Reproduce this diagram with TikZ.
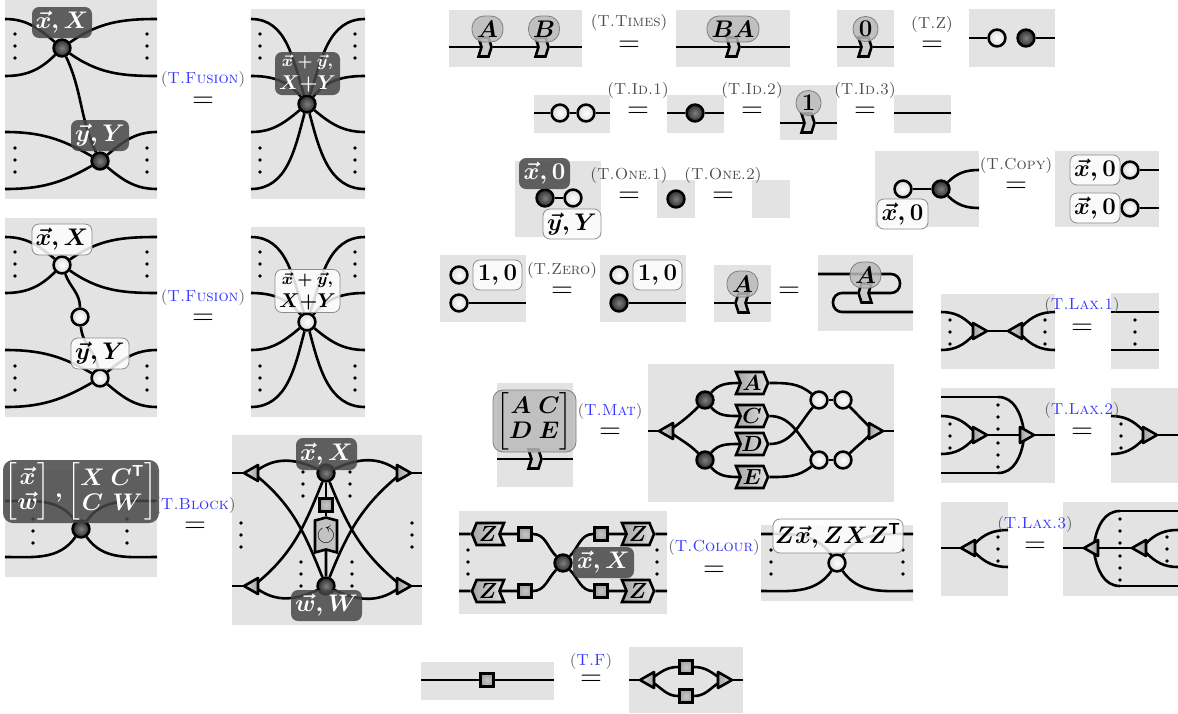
\documentclass[tikz,border=0pt]{standalone}
\usepackage{amsmath}
\usepackage{amssymb}
\usetikzlibrary{shapes.geometric,shapes.symbols}

\setlength{\arraycolsep}{1.5pt}
\newcommand{\blueref}[1]{{\color{black!60}(}{\color{blue!80}\textsc{#1}}{\color{black!60})}}
\newcommand{\grayref}[1]{{\color{black!70}(\textsc{#1})}}
\newcommand{\dotsat}[2]{\fill (#1,#2-12) circle (.9pt) (#1,#2) circle (.9pt) (#1,#2+12) circle (.9pt);}

\tikzset{
    panel/.style={fill=black!11},
    dark/.style={circle,draw=black,line width=1.3pt,inner sep=0,minimum size=8.4pt,inner color=black!50,outer color=black!82},
    light/.style={circle,draw=black,line width=1.3pt,inner sep=0,minimum size=8.4pt,inner color=white,outer color=black!14},
    tri/.style={isosceles triangle,isosceles triangle stretches,draw=black,line width=1.3pt,line join=round,inner sep=0,outer sep=0,minimum width=8pt,minimum height=7pt,anchor=lower side},
    trir/.style={tri,shape border rotate=0,left color=black!35,right color=black!14},
    tril/.style={tri,shape border rotate=180,left color=black!14,right color=black!35},
    sq/.style={rectangle,draw=black,line width=1.3pt,inner sep=0,minimum size=6.6pt,inner color=black!22,outer color=black!36},
    tile/.style={signal,signal to=east,signal from=west,signal pointer angle=135,draw=black,line width=1.3pt,inner sep=0,minimum width=16pt,minimum height=11pt,left color=black!35,right color=black!12,font=\fontsize{11}{12}\selectfont\boldmath},
    tilel/.style={tile,signal to=west,signal from=east},
    gad/.style={signal,signal to=east,signal from=west,signal pointer angle=145,draw=black,line width=1.3pt,inner sep=0,minimum width=6.5pt,minimum height=9.5pt,fill=black!20},
    gadl/.style={gad,signal to=west,signal from=east},
    lab/.style 2 args={rounded corners=3.5pt,inner sep=0,minimum width=#1*0.5pt,minimum height=#2*0.5pt,align=center,fill opacity=.85,text opacity=1,font=\fontsize{12}{12.5}\selectfont\boldmath},
    dlab/.style 2 args={lab={#1}{#2},fill=black!72,text=white},
    wlab/.style 2 args={lab={#1}{#2},fill=white,draw=black!45,line width=.4pt},
    glab/.style 2 args={lab={#1}{#2},fill=black!27,draw=black!50,line width=.4pt,rounded corners=6pt},
    rulename/.style={inner sep=0,font=\fontsize{8}{9}\selectfont},
    eqsign/.style={inner sep=0,font=\fontsize{13.5}{14}\selectfont},
    every edge/.style={draw,line width=1.3pt},
}

\begin{document}
\begin{tikzpicture}[x=0.5pt,y=-0.5pt]
    \useasboundingbox (0,0) rectangle (1178,713);

    % fusion, dark spiders
    \fill[panel] (5,0) rectangle (157,199);
    \fill[panel] (251,9) rectangle (365,199);
    \node[dark] (fa1) at (62,48) {};
    \node[dark] (fa2) at (100,161) {};
    \node[dark] (fa3) at (307,104) {};
    \coordinate (fa4) at (5,19); \coordinate (fa5) at (5,76);
    \coordinate (fa6) at (157,19); \coordinate (fa7) at (157,76);
    \coordinate (fa8) at (5,132); \coordinate (fa9) at (5,189);
    \coordinate (fa10) at (157,132); \coordinate (fa11) at (157,189);
    \coordinate (fa12) at (251,19); \coordinate (fa13) at (251,76);
    \coordinate (fa14) at (251,132); \coordinate (fa15) at (251,189);
    \coordinate (fa16) at (365,19); \coordinate (fa17) at (365,76);
    \coordinate (fa18) at (365,132); \coordinate (fa19) at (365,189);
    \path (fa4) edge[out=0,in=140] (fa1) (fa5) edge[out=0,in=-135] (fa1);
    \path (fa6) edge[out=180,in=35] (fa1) (fa7) edge[out=180,in=-35] (fa1);
    \path (fa8) edge[out=0,in=150] (fa2) (fa9) edge[out=0,in=-150] (fa2);
    \path (fa10) edge[out=180,in=40] (fa2) (fa11) edge[out=180,in=-40] (fa2);
    \path (fa1) edge[out=-65,in=115] (fa2);
    \path (fa12) edge[out=0,in=108] (fa3) (fa13) edge[out=0,in=130] (fa3);
    \path (fa14) edge[out=0,in=-140] (fa3) (fa15) edge[out=0,in=-105] (fa3);
    \path (fa16) edge[out=180,in=72] (fa3) (fa17) edge[out=180,in=50] (fa3);
    \path (fa18) edge[out=180,in=-40] (fa3) (fa19) edge[out=180,in=-75] (fa3);
    \dotsat{15}{46} \dotsat{147}{46} \dotsat{15}{160} \dotsat{147}{160}
    \dotsat{260}{46} \dotsat{355}{46} \dotsat{260}{160} \dotsat{355}{160}
    \node[dlab={60}{31}] (la1) at (62,22.5) {$\vec x,X$};
    \node[dlab={58}{31}] (la2) at (100,135.5) {$\vec y,Y$};
    \node[dlab={65}{43}] (la3) at (307.5,73.5) {{\fontsize{8.5}{9.5}\selectfont\boldmath$\vec x+\vec y,$}\\[-1pt]{\fontsize{10}{10}\selectfont\boldmath$X{+}Y$}};

    % fusion, white spiders
    \fill[panel] (5,218) rectangle (157,417);
    \fill[panel] (251,227) rectangle (365,417);
    \node[light] (fb1) at (62,265) {};
    \node[light] (fb2) at (100,378) {};
    \node[light] (fb3) at (307,322) {};
    \node[light] (fb20) at (80,317) {};
    \coordinate (fb4) at (5,237); \coordinate (fb5) at (5,293);
    \coordinate (fb6) at (157,237); \coordinate (fb7) at (157,293);
    \coordinate (fb8) at (5,350); \coordinate (fb9) at (5,407);
    \coordinate (fb10) at (157,350); \coordinate (fb11) at (157,407);
    \coordinate (fb12) at (251,237); \coordinate (fb13) at (251,293);
    \coordinate (fb14) at (251,350); \coordinate (fb15) at (251,407);
    \coordinate (fb16) at (365,237); \coordinate (fb17) at (365,293);
    \coordinate (fb18) at (365,350); \coordinate (fb19) at (365,407);
    \path (fb4) edge[out=0,in=140] (fb1) (fb5) edge[out=0,in=-135] (fb1);
    \path (fb6) edge[out=180,in=35] (fb1) (fb7) edge[out=180,in=-35] (fb1);
    \path (fb8) edge[out=0,in=150] (fb2) (fb9) edge[out=0,in=-150] (fb2);
    \path (fb10) edge[out=180,in=40] (fb2) (fb11) edge[out=180,in=-40] (fb2);
    \path (fb1) edge[out=-70,in=90] (fb20) (fb20) edge[out=-85,in=100] (fb2);
    \path (fb12) edge[out=0,in=108] (fb3) (fb13) edge[out=0,in=130] (fb3);
    \path (fb14) edge[out=0,in=-140] (fb3) (fb15) edge[out=0,in=-105] (fb3);
    \path (fb16) edge[out=180,in=72] (fb3) (fb17) edge[out=180,in=50] (fb3);
    \path (fb18) edge[out=180,in=-40] (fb3) (fb19) edge[out=180,in=-75] (fb3);
    \dotsat{15}{264} \dotsat{147}{264} \dotsat{15}{378} \dotsat{147}{378}
    \dotsat{260}{264} \dotsat{355}{264} \dotsat{260}{378} \dotsat{355}{378}
    \node[wlab={60}{31}] (lb1) at (62,239.5) {$\vec x,X$};
    \node[wlab={58}{31}] (lb2) at (100,353.5) {$\vec y,Y$};
    \node[wlab={65}{43}] (lb3) at (307.5,291) {{\fontsize{8.5}{9.5}\selectfont\boldmath$\vec x+\vec y,$}\\[-1pt]{\fontsize{10}{10}\selectfont\boldmath$X{+}Y$}};

    % block
    \fill[panel] (5,470) rectangle (157,577);
    \fill[panel] (232,435) rectangle (422,625);
    \node[dark] (bl1) at (81,529) {};
    \coordinate (bl2) at (5,501); \coordinate (bl3) at (5,557);
    \coordinate (bl4) at (157,501); \coordinate (bl5) at (157,557);
    \path (bl2) edge[out=0,in=125] (bl1) (bl3) edge[out=0,in=-125] (bl1);
    \path (bl4) edge[out=180,in=55] (bl1) (bl5) edge[out=180,in=-55] (bl1);
    \dotsat{33}{531} \dotsat{127}{531}
    \node[dark] (bl6) at (326,473) {};
    \node[dark] (bl7) at (326,586) {};
    \node[sq] (bl8) at (326,505) {};
    \node[signal,signal to=north,signal from=south,signal pointer angle=150,draw=black,line width=1.3pt,inner sep=0,minimum width=11pt,minimum height=17pt,fill=black!24,font=\fontsize{12}{12}\selectfont] (bl9) at (326,535) {$\boldsymbol{\circlearrowleft}$};
    \node[tril] (bl10) at (258,473) {};
    \node[tril] (bl11) at (258,586) {};
    \node[trir] (bl12) at (397,473) {};
    \node[trir] (bl13) at (397,586) {};
    \coordinate (bl14) at (232,473); \coordinate (bl15) at (232,586);
    \coordinate (bl16) at (422,473); \coordinate (bl17) at (422,586);
    \path (bl14) edge (bl10) (bl15) edge (bl11) (bl12) edge (bl16) (bl13) edge (bl17);
    \path (bl6) edge (bl8) (bl8) edge (bl9) (bl9) edge (bl7);
    \path (bl10) edge[out=35,in=155] (bl6) (bl10) edge[out=-40,in=112] (bl7);
    \path (bl11) edge[out=40,in=-112] (bl6) (bl11) edge[out=-35,in=-155] (bl7);
    \path (bl12) edge[out=145,in=25] (bl6) (bl12) edge[out=-140,in=68] (bl7);
    \path (bl13) edge[out=140,in=-68] (bl6) (bl13) edge[out=-145,in=-25] (bl7);
    \dotsat{241}{535} \dotsat{412}{535} \dotsat{303}{484} \dotsat{350}{484} \dotsat{301}{574} \dotsat{352}{574}
    \node[dlab={156}{63},rounded corners=5pt] (lb4) at (81,491.5) {$\begin{bmatrix}\vec x\\ \vec w\end{bmatrix},\begin{bmatrix}X&C^{\mathsf{T}}\\ C&W\end{bmatrix}$};
    \node[dlab={61}{32}] (lb5) at (326.5,454) {$\vec x,X$};
    \node[dlab={71}{31}] (lb6) at (326.5,605.5) {$\vec w,W$};

    % times and z
    \fill[panel] (449,10) rectangle (582,67);
    \fill[panel] (676,10) rectangle (790,67);
    \fill[panel] (837,10) rectangle (894,67);
    \fill[panel] (969,9) rectangle (1055,67);
    \node[gad] (ti1) at (485,47) {};
    \node[gad] (ti2) at (542,47) {};
    \node[gad] (ti3) at (733,47) {};
    \node[gad] (ti4) at (865,47) {};
    \node[light] (ti5) at (997,38) {};
    \node[dark] (ti6) at (1026,38) {};
    \coordinate (ti7) at (449,47); \coordinate (ti8) at (582,47);
    \coordinate (ti9) at (676,47); \coordinate (ti10) at (790,47);
    \coordinate (ti11) at (837,47); \coordinate (ti12) at (894,47);
    \coordinate (ti13) at (969,38); \coordinate (ti14) at (1055,38);
    \path (ti7) edge (ti1) (ti1) edge (ti2) (ti2) edge (ti8);
    \path (ti9) edge (ti3) (ti3) edge (ti10);
    \path (ti11) edge (ti4) (ti4) edge (ti12);
    \path (ti13) edge (ti5) (ti6) edge (ti14);
    \node[glab={31}{26}] (lt1) at (487.5,29) {$A$};
    \node[glab={31}{26}] (lt2) at (544,29) {$B$};
    \node[glab={52}{26}] (lt3) at (733,29) {$BA$};
    \node[glab={25}{25}] (lt4) at (865.5,29) {$\mathbf{0}$};

    % identities
    \fill[panel] (534,95) rectangle (610,133);
    \fill[panel] (667,95) rectangle (724,133);
    \fill[panel] (780,85) rectangle (837,140);
    \fill[panel] (894,95) rectangle (951,133);
    \node[light] (id1) at (560,113) {};
    \node[light] (id2) at (586,113) {};
    \node[dark] (id3) at (695,113) {};
    \node[gad] (id4) at (808,123) {};
    \coordinate (id5) at (534,113); \coordinate (id6) at (610,113);
    \coordinate (id7) at (667,113); \coordinate (id8) at (724,113);
    \coordinate (id9) at (780,123); \coordinate (id10) at (837,123);
    \coordinate (id11) at (894,113); \coordinate (id12) at (951,113);
    \path (id5) edge (id1) (id1) edge (id2) (id2) edge (id6);
    \path (id7) edge (id3) (id3) edge (id8);
    \path (id9) edge (id4) (id4) edge (id10);
    \path (id11) edge (id12);
    \node[glab={25}{25}] (lt5) at (808.5,103) {$\mathbf{1}$};

    % one and copy
    \fill[panel] (515,161) rectangle (601,237);
    \fill[panel] (657,180) rectangle (695,218);
    \fill[panel] (752,180) rectangle (790,218);
    \fill[panel] (875,151) rectangle (979,227);
    \fill[panel] (1055,151) rectangle (1159,227);
    \node[dark] (on1) at (545,198) {};
    \node[light] (on2) at (573,198) {};
    \node[dark] (on3) at (676,199) {};
    \node[light] (on4) at (903,189) {};
    \node[dark] (on5) at (941,189) {};
    \node[light] (on6) at (1130,170) {};
    \node[light] (on7) at (1130,208) {};
    \coordinate (on8) at (979,170); \coordinate (on9) at (979,208);
    \coordinate (on10) at (1159,170); \coordinate (on11) at (1159,208);
    \path (on1) edge (on2) (on4) edge (on5);
    \path (on5) edge[out=45,in=180] (on8) (on5) edge[out=-45,in=180] (on9);
    \path (on6) edge (on10) (on7) edge (on11);
    \node[dlab={51}{31}] (lo1) at (544.5,173.5) {$\vec x,\mathbf{0}$};
    \node[wlab={58}{30}] (lo2) at (572,224) {$\vec y,Y$};
    \node[wlab={51}{30}] (lo3) at (902.5,214) {$\vec x,\mathbf{0}$};
    \node[wlab={50}{30}] (lo4) at (1095,170) {$\vec x,\mathbf{0}$};
    \node[wlab={50}{30}] (lo5) at (1095,208) {$\vec x,\mathbf{0}$};

    % zero and transpose
    \fill[panel] (440,255) rectangle (526,322);
    \fill[panel] (600,255) rectangle (686,322);
    \fill[panel] (714,265) rectangle (771,322);
    \fill[panel] (818,255) rectangle (913,331);
    \node[light] (ze1) at (459,275) {};
    \node[light] (ze2) at (459,303) {};
    \node[light] (ze3) at (619,275) {};
    \node[dark] (ze4) at (619,303) {};
    \node[gadl] (ze5) at (742,303) {};
    \node[gadl] (ze6) at (865,293) {};
    \coordinate (ze7) at (526,303); \coordinate (ze8) at (686,303);
    \coordinate (ze9) at (714,303); \coordinate (ze10) at (771,303);
    \coordinate (ze11) at (818,274); \coordinate (ze12) at (913,312);
    \path (ze2) edge (ze7) (ze4) edge (ze8);
    \path (ze9) edge (ze5) (ze5) edge (ze10);
    \draw[line width=1.3pt,rounded corners=4.5pt] (ze11) -- (900,274) -- (900,293) -- (ze6);
    \draw[line width=1.3pt,rounded corners=4.5pt] (ze6) -- (833,293) -- (833,312) -- (ze12);
    \node[wlab={49}{30}] (lz1) at (497.5,275) {$\mathbf{1},\mathbf{0}$};
    \node[wlab={49}{30}] (lz2) at (657.5,275) {$\mathbf{1},\mathbf{0}$};
    \node[glab={31}{26}] (lz3) at (742.5,284) {$A$};
    \node[glab={31}{26}] (lz4) at (865.5,275) {$A$};

    % matrix
    \fill[panel] (497,383) rectangle (573,487);
    \fill[panel] (648,364) rectangle (894,502);
    \node[gad] (ma1) at (535,459) {};
    \coordinate (ma2) at (497,459); \coordinate (ma3) at (573,459);
    \path (ma2) edge (ma1) (ma1) edge (ma3);
    \node[tril] (ma4) at (673,431) {};
    \node[trir] (ma5) at (869,431) {};
    \node[dark] (ma6) at (705,400) {};
    \node[dark] (ma7) at (705,460) {};
    \node[light] (ma8) at (819,400) {};
    \node[light] (ma9) at (843,400) {};
    \node[light] (ma10) at (819,460) {};
    \node[light] (ma11) at (843,460) {};
    \node[tile] (ma12) at (752,383) {$A$};
    \node[tile] (ma13) at (752,416) {$C$};
    \node[tile] (ma14) at (752,444) {$D$};
    \node[tile] (ma15) at (752,477) {$E$};
    \coordinate (ma16) at (648,431); \coordinate (ma17) at (894,431);
    \path (ma16) edge (ma4) (ma5) edge (ma17);
    \path (ma4) edge[out=35,in=-135] (ma6) (ma4) edge[out=-35,in=135] (ma7);
    \path (ma6) edge[out=50,in=180] (ma12) (ma6) edge[out=-50,in=180] (ma13);
    \path (ma7) edge[out=50,in=180] (ma14) (ma7) edge[out=-50,in=180] (ma15);
    \path (ma12) edge[out=0,in=140] (ma8) (ma14) edge[out=0,in=-130] (ma8);
    \path (ma13) edge[out=0,in=130] (ma10) (ma15) edge[out=0,in=-140] (ma10);
    \path (ma8) edge (ma9) (ma10) edge (ma11);
    \path (ma9) edge[out=-45,in=135] (ma5) (ma11) edge[out=45,in=-135] (ma5);
    \node[glab={83}{62},rounded corners=5pt] (lm1) at (534.5,421) {$\begin{bmatrix}A&C\\ D&E\end{bmatrix}$};

    % colour
    \fill[panel] (459,511) rectangle (667,614);
    \fill[panel] (761,525) rectangle (913,601);
    \node[dark] (co1) at (563,563) {};
    \node[tilel] (co2) at (488,534) {$Z$};
    \node[tilel] (co3) at (488,591) {$Z$};
    \node[sq] (co4) at (525,534) {};
    \node[sq] (co5) at (525,591) {};
    \node[sq] (co6) at (601,534) {};
    \node[sq] (co7) at (601,591) {};
    \node[tile] (co8) at (638,534) {$Z$};
    \node[tile] (co9) at (638,591) {$Z$};
    \coordinate (co10) at (459,534); \coordinate (co11) at (459,591);
    \coordinate (co12) at (667,534); \coordinate (co13) at (667,591);
    \path (co10) edge (co2) (co2) edge (co4) (co11) edge (co3) (co3) edge (co5);
    \path (co6) edge (co8) (co8) edge (co12) (co7) edge (co9) (co9) edge (co13);
    \path (co4) edge[out=0,in=135] (co1) (co5) edge[out=0,in=-135] (co1);
    \path (co6) edge[out=180,in=45] (co1) (co7) edge[out=180,in=-45] (co1);
    \dotsat{468}{562} \dotsat{657}{562}
    \node[dlab={61}{31}] (lc1) at (603.5,562.5) {$\vec x,X$};
    \node[light] (co14) at (837,563) {};
    \coordinate (co15) at (761,534); \coordinate (co16) at (761,591);
    \coordinate (co17) at (913,534); \coordinate (co18) at (913,591);
    \path (co15) edge[out=0,in=125] (co14) (co16) edge[out=0,in=-125] (co14);
    \path (co17) edge[out=180,in=55] (co14) (co18) edge[out=180,in=-55] (co14);
    \dotsat{771}{562} \dotsat{903}{562}
    \node[wlab={130}{34}] (lc2) at (838,536) {$Z\vec x,ZXZ^{\mathsf{T}}$};

    % f
    \fill[panel] (421,662) rectangle (554,700);
    \fill[panel] (629,647) rectangle (743,713);
    \node[sq] (ff1) at (487,680) {};
    \coordinate (ff2) at (421,680); \coordinate (ff3) at (554,680);
    \path (ff2) edge (ff1) (ff1) edge (ff3);
    \node[tril] (ff4) at (654,680) {};
    \node[trir] (ff5) at (718,680) {};
    \node[sq] (ff6) at (686,667) {};
    \node[sq] (ff7) at (686,696) {};
    \coordinate (ff8) at (629,680); \coordinate (ff9) at (743,680);
    \path (ff8) edge (ff4) (ff5) edge (ff9);
    \path (ff4) edge[out=35,in=180] (ff6) (ff4) edge[out=-35,in=180] (ff7);
    \path (ff6) edge[out=0,in=145] (ff5) (ff7) edge[out=0,in=-145] (ff5);

    % lax
    \fill[panel] (941,294) rectangle (1055,369);
    \fill[panel] (1111,293) rectangle (1159,369);
    \fill[panel] (941,388) rectangle (1055,483);
    \fill[panel] (1111,388) rectangle (1178,483);
    \fill[panel] (941,502) rectangle (1008,596);
    \fill[panel] (1063,502) rectangle (1178,596);
    \node[trir] (la4) at (973,331) {};
    \node[tril] (la5) at (1022,331) {};
    \coordinate (la6) at (941,312); \coordinate (la7) at (941,350);
    \coordinate (la8) at (1055,312); \coordinate (la9) at (1055,350);
    \coordinate (la10) at (1111,312); \coordinate (la11) at (1111,350);
    \coordinate (la12) at (1159,312); \coordinate (la13) at (1159,350);
    \path (la6) edge[out=0,in=135] (la4) (la7) edge[out=0,in=-135] (la4);
    \path (la8) edge[out=180,in=45] (la5) (la9) edge[out=180,in=-45] (la5);
    \path (la4) edge (la5) (la10) edge (la12) (la11) edge (la13);
    \dotsat{950}{332} \dotsat{1045}{332} \dotsat{1135}{332}
    \node[trir] (lx1) at (973,435) {};
    \node[trir] (lx2) at (1020,435) {};
    \node[trir] (lx3) at (1143,435) {};
    \coordinate (lx4) at (941,416); \coordinate (lx5) at (941,454);
    \coordinate (lx6) at (941,397); \coordinate (lx7) at (941,473);
    \coordinate (lx8) at (998,397); \coordinate (lx9) at (998,473);
    \coordinate (lx10) at (1055,435); \coordinate (lx11) at (1111,416);
    \coordinate (lx12) at (1111,454); \coordinate (lx13) at (1178,435);
    \path (lx4) edge[out=0,in=135] (lx1) (lx5) edge[out=0,in=-135] (lx1);
    \path (lx1) edge (lx2) (lx2) edge (lx10);
    \path (lx6) edge (lx8) (lx7) edge (lx9);
    \path (lx8) edge[out=0,in=100] (lx2) (lx9) edge[out=0,in=-100] (lx2);
    \path (lx11) edge[out=0,in=135] (lx3) (lx12) edge[out=0,in=-135] (lx3) (lx3) edge (lx13);
    \dotsat{950}{436} \dotsat{998}{417} \dotsat{998}{455} \dotsat{1121}{436}
    \node[tril] (ly1) at (975,548) {};
    \node[tril] (ly2) at (1098,548) {};
    \node[tril] (ly3) at (1146,548) {};
    \coordinate (ly4) at (941,548); \coordinate (ly5) at (1008,530);
    \coordinate (ly6) at (1008,567); \coordinate (ly7) at (1063,548);
    \coordinate (ly8) at (1178,530); \coordinate (ly9) at (1178,567);
    \coordinate (ly10) at (1178,511); \coordinate (ly11) at (1178,586);
    \coordinate (ly12) at (1120,511); \coordinate (ly13) at (1120,586);
    \path (ly4) edge (ly1) (ly5) edge[out=180,in=45] (ly1) (ly6) edge[out=180,in=-45] (ly1);
    \path (ly7) edge (ly2) (ly2) edge (ly3);
    \path (ly8) edge[out=180,in=45] (ly3) (ly9) edge[out=180,in=-45] (ly3);
    \path (ly10) edge (ly12) (ly11) edge (ly13);
    \path (ly12) edge[out=180,in=80] (ly2) (ly13) edge[out=180,in=-80] (ly2);
    \dotsat{998}{549} \dotsat{1120}{531} \dotsat{1120}{568} \dotsat{1167}{549}

    % rule names
    \node[rulename] (n1) at (203,79) {\blueref{T.Fusion}};
    \node[eqsign] (e1) at (203,102) {$=$};
    \node[rulename] (n2) at (203,297) {\blueref{T.Fusion}};
    \node[eqsign] (e2) at (203,319) {$=$};
    \node[rulename] (n3) at (195,505) {\blueref{T.Block}};
    \node[eqsign] (e3) at (195,527) {$=$};
    \node[rulename] (n4) at (629,22) {\grayref{T.Times}};
    \node[eqsign] (e4) at (629,46) {$=$};
    \node[rulename] (n5) at (932,24) {\grayref{T.Z}};
    \node[eqsign] (e5) at (932,46) {$=$};
    \node[rulename] (n6) at (638,90) {\grayref{T.Id.1}};
    \node[eqsign] (e6) at (638,112) {$=$};
    \node[rulename] (n7) at (752,90) {\grayref{T.Id.2}};
    \node[eqsign] (e7) at (752,112) {$=$};
    \node[rulename] (n8) at (865,90) {\grayref{T.Id.3}};
    \node[eqsign] (e8) at (865,112) {$=$};
    \node[rulename] (n9) at (629,175) {\grayref{T.One.1}};
    \node[eqsign] (e9) at (629,197) {$=$};
    \node[rulename] (n10) at (723,175) {\grayref{T.One.2}};
    \node[eqsign] (e10) at (723,197) {$=$};
    \node[rulename] (n11) at (1016,165) {\grayref{T.Copy}};
    \node[eqsign] (e11) at (1016,187) {$=$};
    \node[rulename] (n12) at (562,270) {\grayref{T.Zero}};
    \node[eqsign] (e12) at (562,292) {$=$};
    \node[eqsign] (e13) at (789,292) {$=$};
    \node[rulename] (n14) at (610,411) {\blueref{T.Mat}};
    \node[eqsign] (e14) at (610,433) {$=$};
    \node[rulename] (n15) at (714,547) {\blueref{T.Colour}};
    \node[eqsign] (e15) at (714,571) {$=$};
    \node[rulename] (n16) at (591,661) {\blueref{T.F}};
    \node[eqsign] (e16) at (591,680) {$=$};
    \node[rulename] (n17) at (1082,305) {\blueref{T.Lax.1}};
    \node[eqsign] (e17) at (1082,329) {$=$};
    \node[rulename] (n18) at (1082,410) {\blueref{T.Lax.2}};
    \node[eqsign] (e18) at (1082,433) {$=$};
    \node[rulename] (n19) at (1035,524) {\blueref{T.Lax.3}};
    \node[eqsign] (e19) at (1035,547) {$=$};
\end{tikzpicture}
\end{document}
